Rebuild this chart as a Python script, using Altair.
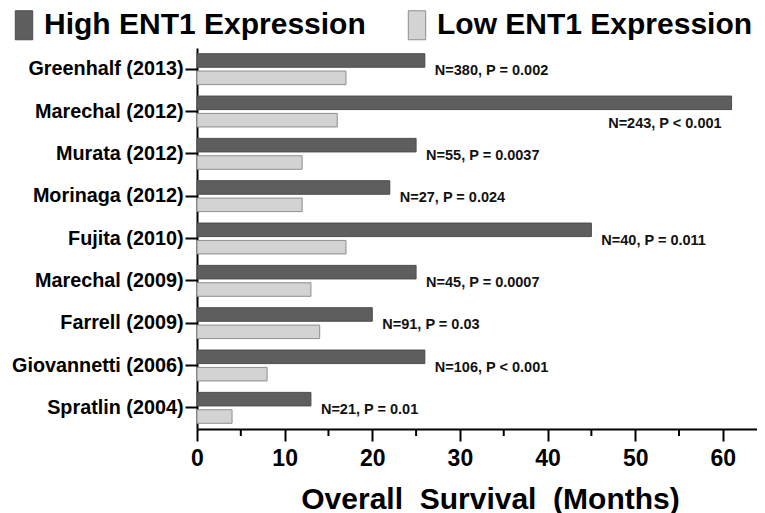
import altair as alt
import pandas as pd

FONT = "Liberation Sans, Arial, Helvetica, sans-serif"

studies = ["Greenhalf (2013)", "Marechal (2012)", "Murata (2012)", "Morinaga (2012)",
           "Fujita (2010)", "Marechal (2009)", "Farrell (2009)", "Giovannetti (2006)",
           "Spratlin (2004)"]
high_os = [26, 61, 25, 22, 45, 25, 20, 26, 13]
low_os = [17, 16, 12, 12, 17, 13, 14, 8, 4]
n_patients = [380, 243, 55, 27, 40, 45, 91, 106, 21]
p_values = ["P = 0.002", "P < 0.001", "P = 0.0037", "P = 0.024", "P = 0.011",
            "P = 0.0007", "P = 0.03", "P < 0.001", "P = 0.01"]
label_below = [False, True, False, False, False, False, False, False, False]
series_names = ["High ENT1 Expression", "Low ENT1 Expression"]
major_ticks = [0, 10, 20, 30, 40, 50, 60]
minor_ticks = [5, 15, 25, 35, 45, 55]

rows = []
for s, h, l in zip(studies, high_os, low_os):
    rows.append({"study": s, "series": series_names[0], "value": h})
    rows.append({"study": s, "series": series_names[1], "value": l})
df = pd.DataFrame(rows)

df_lab = pd.DataFrame({
    "study": studies,
    "high": high_os,
    "label": [f"N={n}, {p}" for n, p in zip(n_patients, p_values)],
    "below": label_below,
})
df_minor = pd.DataFrame({"m": minor_ticks})

W, H = 560, 381
X_TITLE = "Overall\u00a0 Survival\u00a0 (Months)"
x_scale = alt.Scale(domain=[0, 63.9], nice=False, zero=True)
y_scale = alt.Scale(paddingInner=0.27, paddingOuter=0.135)

x_axis = alt.Axis(values=major_ticks, title=X_TITLE,
                  grid=False, domainColor="black", domainWidth=2,
                  tickColor="black", tickWidth=2, tickSize=12,
                  labelFontSize=23, labelFont=FONT, labelFontWeight="bold",
                  labelColor="black", labelPadding=6, labelFlush=False,
                  titleFontSize=30, titleFont=FONT, titleFontWeight="bold",
                  titleColor="black", titleX=293, titleY=79,
                  titleBaseline="alphabetic", titleAlign="center")
y_axis = alt.Axis(title=None, grid=False, domainColor="black", domainWidth=2,
                  tickColor="black", tickWidth=2, tickSize=12,
                  labelFontSize=19.8, labelFont=FONT, labelFontWeight="bold",
                  labelColor="black", labelPadding=2, labelLimit=0)

bars = alt.Chart(df).mark_bar(strokeWidth=1).encode(
    x=alt.X("value:Q", scale=x_scale, axis=x_axis, title=X_TITLE),
    y=alt.Y("study:N", sort=studies, scale=y_scale, axis=y_axis, title=None),
    yOffset=alt.YOffset("series:N", sort=series_names,
                        scale=alt.Scale(paddingInner=0.22)),
    fill=alt.Fill("series:N", sort=series_names,
                  scale=alt.Scale(domain=series_names, range=["#5e5e5e", "#d3d3d3"]),
                  legend=alt.Legend(orient="none", legendX=-188, legendY=-38,
                                    direction="horizontal", title=None,
                                    symbolType="M-0.6,-1H0.6V1H-0.6Z",
                                    symbolSize=841, symbolStrokeColor="#777777",
                                    symbolStrokeWidth=1, symbolOpacity=1,
                                    labelFontSize=30, labelFont=FONT,
                                    labelFontWeight="bold", labelColor="black",
                                    labelOffset=5, columnPadding=36, padding=0,
                                    labelLimit=0)),
    stroke=alt.Stroke("series:N", sort=series_names,
                      scale=alt.Scale(domain=series_names, range=["#4c4c4c", "#8e8e8e"]),
                      legend=None),
)

text_right = alt.Chart(df_lab).transform_filter("!datum.below").mark_text(
    align="left", baseline="middle", dx=10, dy=2, fontSize=14.5,
    fontWeight="bold", font=FONT, color="#111111"
).encode(
    x=alt.X("high:Q", scale=x_scale, axis=x_axis, title=X_TITLE),
    y=alt.Y("study:N", sort=studies, scale=y_scale, axis=y_axis, title=None),
    text="label:N",
)

text_below = alt.Chart(df_lab).transform_filter("datum.below").mark_text(
    align="right", baseline="middle", dx=-10, dy=12, fontSize=14.5,
    fontWeight="bold", font=FONT, color="#111111"
).encode(
    x=alt.X("high:Q", scale=x_scale, axis=x_axis, title=X_TITLE),
    y=alt.Y("study:N", sort=studies, scale=y_scale, axis=y_axis, title=None),
    text="label:N",
)

minor = alt.Chart(df_minor).mark_rule(color="black", strokeWidth=2).encode(
    x=alt.X("m:Q", scale=x_scale, axis=x_axis, title=X_TITLE),
    y=alt.value(H),
    y2=alt.value(H + 7),
)

chart = alt.layer(bars, text_right, text_below, minor).properties(
    width=W, height=H,
    autosize=alt.AutoSizeParams(type="none"),
    padding={"left": 189, "top": 40, "right": 0, "bottom": 84},
).configure(font=FONT).configure_view(strokeWidth=0)

chart.save("out.html", embed_options={"renderer": "svg", "actions": False})
